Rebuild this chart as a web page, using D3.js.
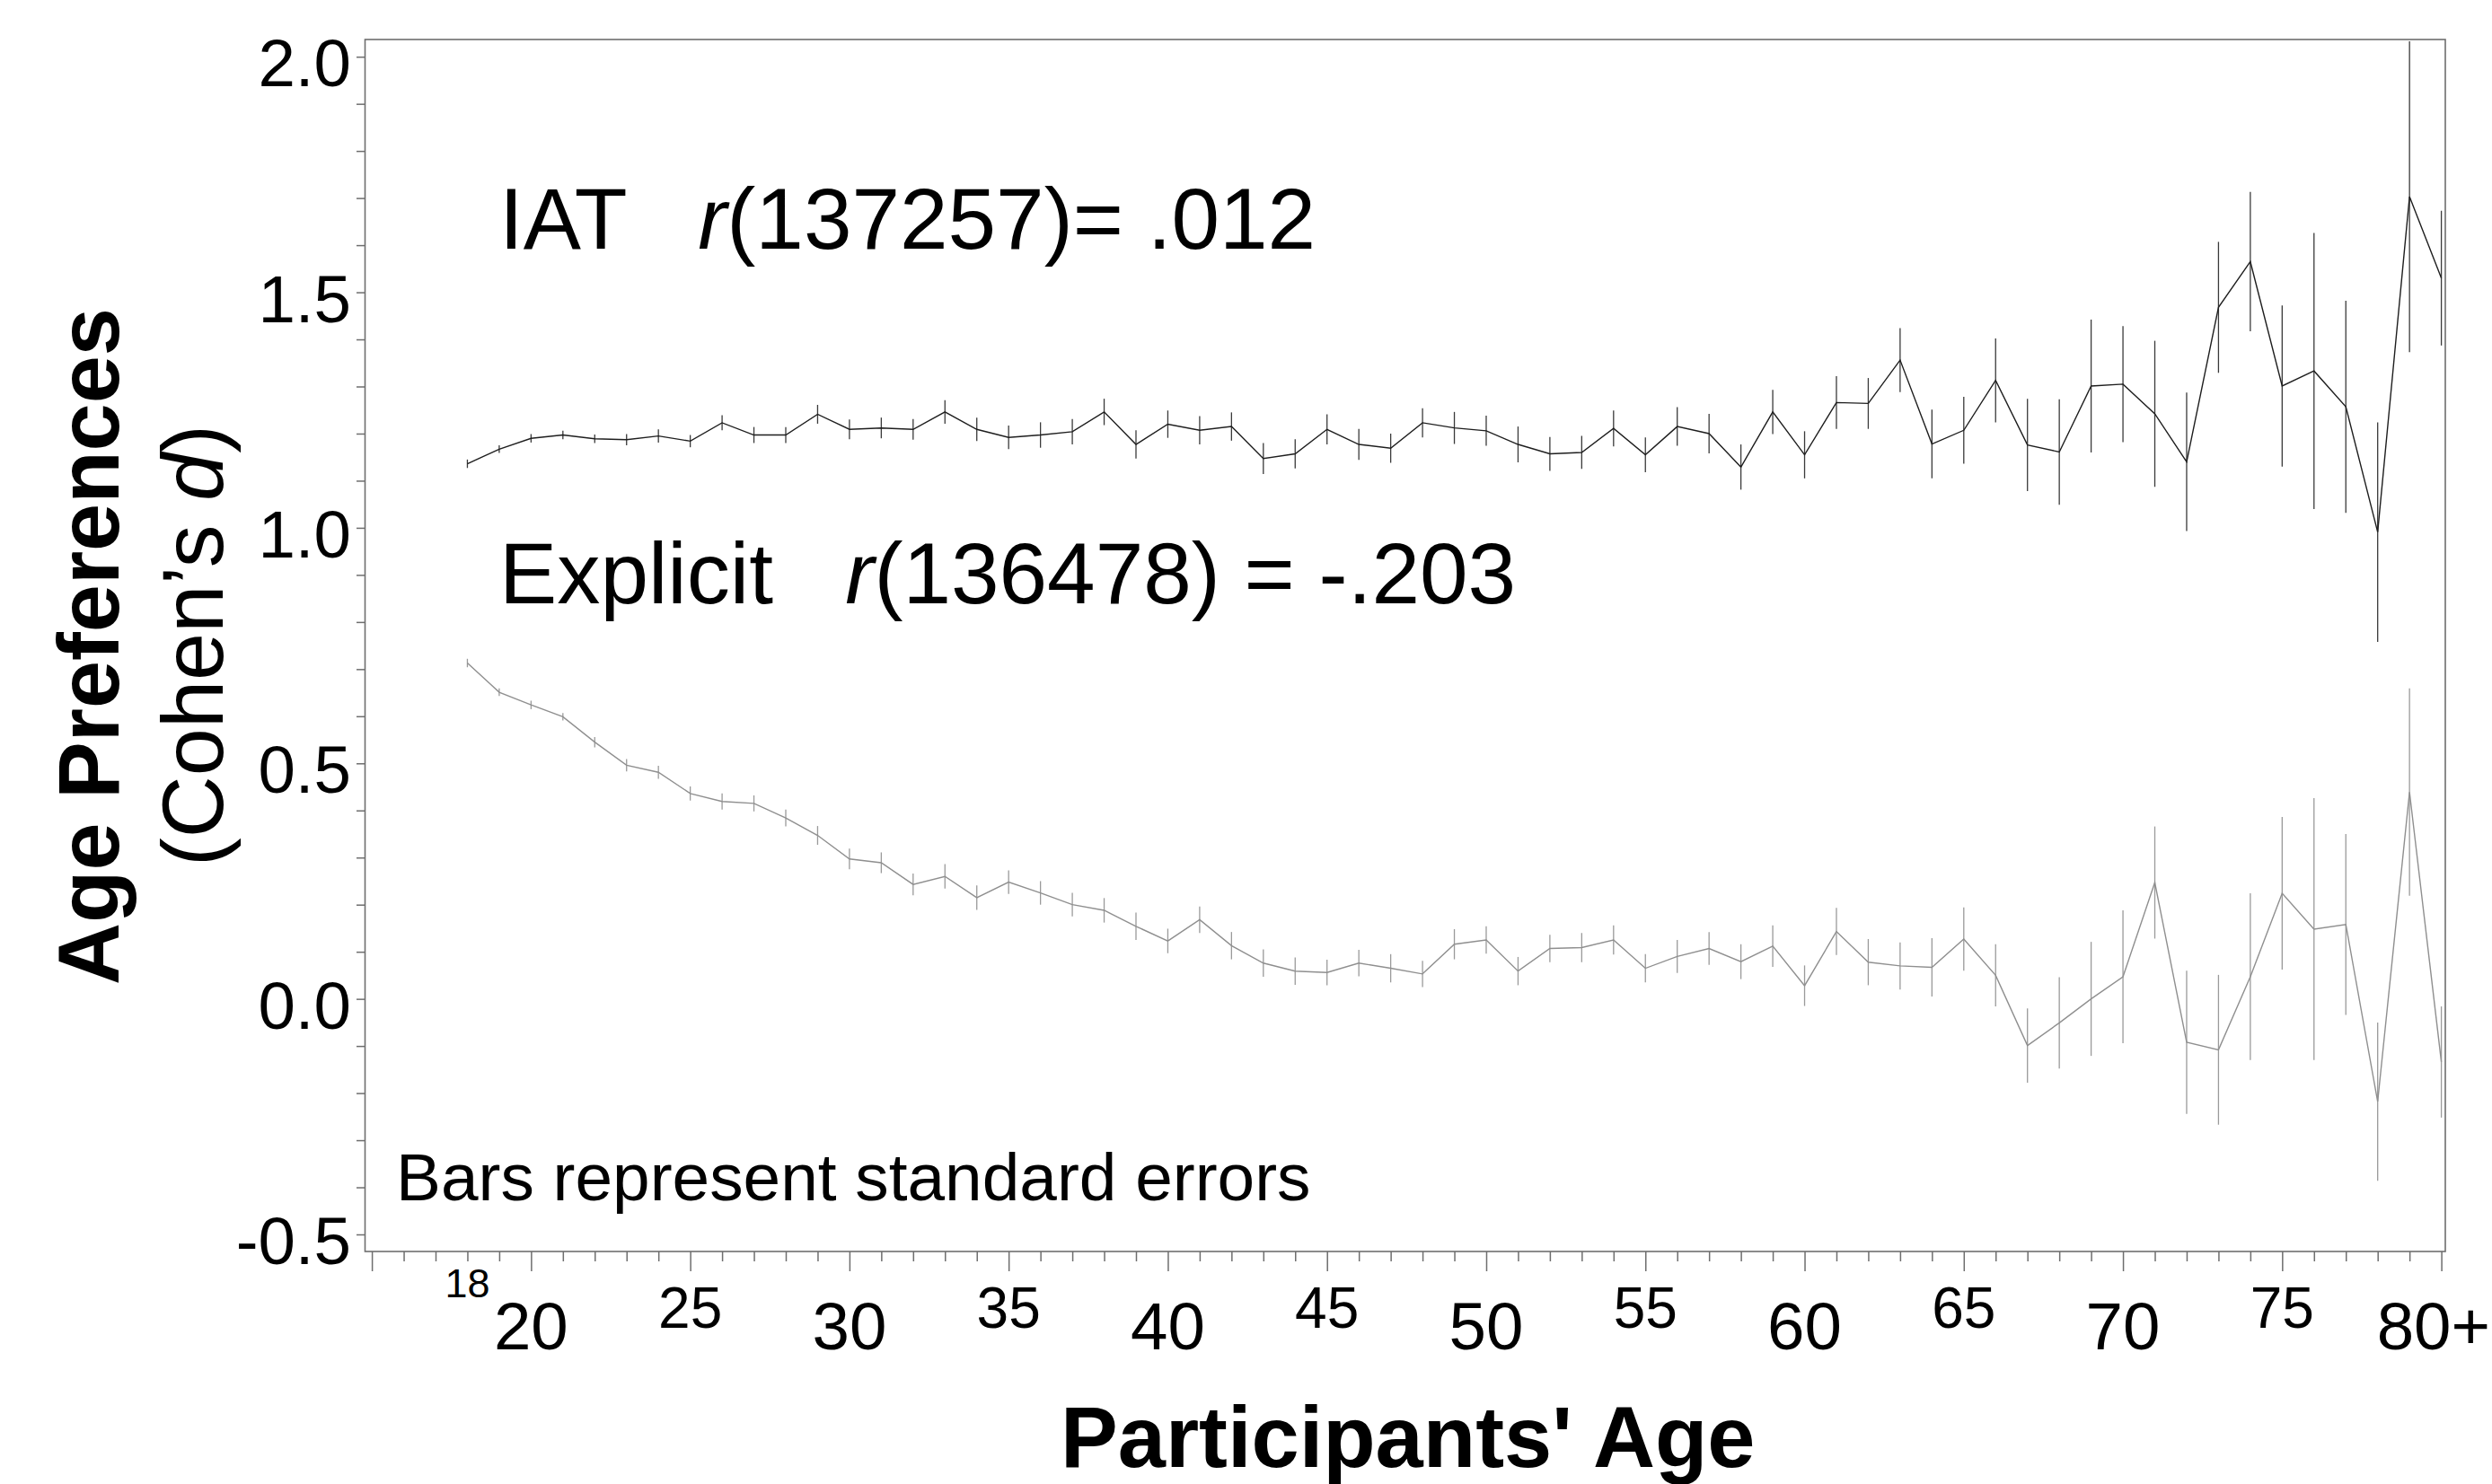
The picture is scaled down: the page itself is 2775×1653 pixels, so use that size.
<!DOCTYPE html>
<html>
<head>
<meta charset="utf-8">
<script src="https://cdn.jsdelivr.net/npm/d3@7"></script>
<style>
  html, body { margin: 0; padding: 0; background: #fff; }
  svg { display: block; font-family: "Liberation Sans", Arial, Helvetica, sans-serif; }
  text { white-space: pre; }
</style>
</head>
<body>
<svg id="chart" width="2775" height="1653"></svg>
<script>
// ---------------- DATA ----------------
const ages = [18,19,20,21,22,23,24,25,26,27,28,29,30,31,32,33,34,35,36,37,38,39,40,41,42,43,44,45,46,47,48,49,
  50,51,52,53,54,55,56,57,58,59,60,61,62,63,64,65,66,67,68,69,70,71,72,73,74,75,76,77,78,79,80];

const iatMean = [1.136,1.167,1.190,1.197,1.189,1.187,1.195,1.184,1.223,1.197,1.197,1.241,1.209,1.212,1.209,1.246,
  1.209,1.192,1.197,1.204,1.246,1.177,1.220,1.207,1.215,1.147,1.157,1.209,1.177,1.169,1.223,1.212,
  1.206,1.177,1.157,1.160,1.211,1.155,1.215,1.200,1.129,1.246,1.155,1.266,1.264,1.356,1.178,1.207,
  1.313,1.176,1.161,1.301,1.305,1.242,1.140,1.468,1.565,1.301,1.333,1.257,0.991,1.703,1.530];

const iatSE = [0.009,0.008,0.009,0.009,0.009,0.012,0.014,0.013,0.016,0.017,0.017,0.020,0.021,0.022,0.022,0.025,
  0.025,0.025,0.027,0.027,0.028,0.030,0.029,0.030,0.030,0.033,0.031,0.032,0.033,0.031,0.031,0.034,
  0.032,0.038,0.036,0.035,0.038,0.037,0.041,0.042,0.048,0.047,0.050,0.056,0.054,0.068,0.073,0.071,
  0.089,0.098,0.112,0.141,0.123,0.155,0.147,0.139,0.148,0.171,0.293,0.225,0.233,0.330,0.143];

const explicitMean = [0.713,0.651,0.624,0.599,0.545,0.496,0.481,0.436,0.419,0.415,0.384,0.347,0.297,0.289,0.243,0.260,
  0.215,0.248,0.225,0.200,0.188,0.154,0.123,0.168,0.113,0.076,0.059,0.056,0.076,0.065,0.053,0.116,
  0.125,0.059,0.107,0.109,0.125,0.065,0.090,0.107,0.079,0.112,0.028,0.143,0.078,0.070,0.067,0.127,
  0.050,-0.099,-0.051,0.000,0.047,0.247,-0.092,-0.108,0.047,0.224,0.148,0.158,-0.218,0.439,-0.134];

const explicitSE = [0.009,0.008,0.009,0.008,0.011,0.013,0.014,0.015,0.017,0.017,0.018,0.020,0.022,0.022,0.023,0.026,
  0.026,0.025,0.025,0.025,0.026,0.029,0.026,0.028,0.029,0.029,0.029,0.027,0.028,0.030,0.028,0.032,
  0.029,0.030,0.029,0.031,0.031,0.030,0.035,0.035,0.037,0.044,0.043,0.050,0.049,0.050,0.062,0.067,
  0.066,0.079,0.097,0.121,0.141,0.119,0.152,0.159,0.177,0.162,0.278,0.192,0.168,0.220,0.118];

const xMinorTickAges = [15,16,17,18,19,20,21,22,23,24,25,26,27,28,29,30,31,32,33,34,35,36,37,38,39,40,41,42,43,44,45,46,47,
  48,49,50,51,52,53,54,55,56,57,58,59,60,61,62,63,64,65,66,67,68,69,70,71,72,73,74,75,76,77,78,79,80];
const xMajorTickAges = [15,20,25,30,35,40,45,50,55,60,65,70,75,80];
const xLargeLabelAges = [20,30,40,50,60,70];
const xLargeLabels = ["20","30","40","50","60","70"];
const xLastLabelAge = 80;
const xLastLabel = "80+";
const xMidLabelAges = [25,35,45,55,65,75];
const xMidLabels = ["25","35","45","55","65","75"];
const xSmallLabelAges = [18];
const xSmallLabels = ["18"];

const yMinorTicks = [-0.5,-0.4,-0.3,-0.2,-0.1,0,0.1,0.2,0.3,0.4,0.5,0.6,0.7,0.8,0.9,1.0,1.1,1.2,1.3,1.4,1.5,1.6,1.7,1.8,1.9,2.0];
const yLabelValues = [-0.5,0.0,0.5,1.0,1.5,2.0];
const yLabels = ["-0.5","0.0","0.5","1.0","1.5","2.0"];

// ---------------- LAYOUT ----------------
const frame = {left: 406.5, right: 2723, top: 44, bottom: 1394};
const axisColor = "#6e6e6e";

const svg = d3.select("#chart");
svg.append("rect").attr("width", 2775).attr("height", 1653).attr("fill", "#fff");

const x = d3.scaleLinear().domain([15, 80]).range([414.1, 2718.6]);
const y = d3.scaleLinear().domain([-0.5, 2.0]).range([1375, 63.2]);

svg.append("clipPath").attr("id", "plotclip").append("rect")
  .attr("x", frame.left).attr("y", frame.top)
  .attr("width", frame.right - frame.left).attr("height", frame.bottom - frame.top);

// ---- Y axis ticks
const yAxis = svg.append("g")
  .attr("transform", `translate(${frame.left},0)`)
  .call(d3.axisLeft(y).tickValues(yMinorTicks).tickSize(9.5).tickFormat(""));
yAxis.select(".domain").remove();
yAxis.selectAll(".tick line").attr("stroke", axisColor).attr("stroke-width", 1.5);

svg.append("g").selectAll("text").data(yLabelValues).join("text")
  .attr("x", 391)
  .attr("y", d => y(d) + 33)
  .attr("text-anchor", "end")
  .attr("font-size", 74.5)
  .attr("fill", "#000")
  .text((d, i) => yLabels[i]);

// ---- X axis ticks
const xAxis = svg.append("g")
  .attr("transform", `translate(0,${frame.bottom})`)
  .call(d3.axisBottom(x).tickValues(xMinorTickAges).tickSize(11).tickFormat(""));
xAxis.select(".domain").remove();
xAxis.selectAll(".tick line")
  .attr("stroke", axisColor).attr("stroke-width", 1.5)
  .attr("y2", d => xMajorTickAges.includes(d) ? 22 : 11);

const xl = svg.append("g").attr("text-anchor", "middle").attr("fill", "#000");
xl.selectAll("text.lg").data(xLargeLabelAges).join("text").attr("class", "lg")
  .attr("x", d => x(d)).attr("y", 1503).attr("font-size", 74.5)
  .text((d, i) => xLargeLabels[i]);
xl.append("text")
  .attr("x", 2773).attr("y", 1503).attr("font-size", 74.5).attr("text-anchor", "end")
  .datum(xLastLabelAge)
  .text(xLastLabel);
xl.selectAll("text.md").data(xMidLabelAges).join("text").attr("class", "md")
  .attr("x", d => x(d)).attr("y", 1479).attr("font-size", 64)
  .text((d, i) => xMidLabels[i]);
xl.selectAll("text.sm").data(xSmallLabelAges).join("text").attr("class", "sm")
  .attr("x", d => x(d)).attr("y", 1445).attr("font-size", 45)
  .text((d, i) => xSmallLabels[i]);

// ---- Frame
svg.append("rect")
  .attr("x", frame.left).attr("y", frame.top)
  .attr("width", frame.right - frame.left).attr("height", frame.bottom - frame.top)
  .attr("fill", "none").attr("stroke", axisColor).attr("stroke-width", 1.6);

// ---- Series
const plot = svg.append("g").attr("clip-path", "url(#plotclip)");

function drawSeries(means, ses, lineColor, barColor) {
  const data = ages.map((a, i) => ({age: a, m: means[i], se: ses[i]}));
  plot.append("g").selectAll("line").data(data).join("line")
    .attr("x1", d => x(d.age)).attr("x2", d => x(d.age))
    .attr("y1", d => y(d.m - d.se)).attr("y2", d => y(d.m + d.se))
    .attr("stroke", barColor).attr("stroke-width", 1.3);
  plot.append("path").datum(data)
    .attr("fill", "none").attr("stroke", lineColor).attr("stroke-width", 1.4)
    .attr("d", d3.line().x(d => x(d.age)).y(d => y(d.m)));
}
drawSeries(explicitMean, explicitSE, "#8f8f8f", "#9a9a9a");
drawSeries(iatMean, iatSE, "#1e1e1e", "#3a3a3a");

// ---- Annotations
const ann = svg.append("g").attr("fill", "#000").attr("font-size", 96.3);
const t1 = ann.append("text").attr("x", 556).attr("y", 277).attr("xml:space", "preserve");
t1.append("tspan").text("IAT   ");
t1.append("tspan").attr("font-style", "italic").text("r");
t1.append("tspan").text("(137257)= .012");

const t2 = ann.append("text").attr("x", 556).attr("y", 672).attr("xml:space", "preserve");
t2.append("tspan").text("Explicit   ");
t2.append("tspan").attr("font-style", "italic").text("r");
t2.append("tspan").text("(136478) = -.203");

svg.append("text").attr("x", 441).attr("y", 1337).attr("font-size", 74.8).attr("fill", "#000")
  .text("Bars represent standard errors");

// ---- Axis titles
svg.append("text")
  .attr("x", (frame.left + frame.right) / 2 + 3).attr("y", 1634)
  .attr("text-anchor", "middle").attr("font-size", 95.6).attr("font-weight", "bold")
  .text("Participants' Age");

svg.append("text")
  .attr("transform", "translate(132,720) rotate(-90)")
  .attr("text-anchor", "middle").attr("font-size", 95.5).attr("font-weight", "bold")
  .text("Age Preferences");

const yt2 = svg.append("text")
  .attr("transform", "translate(248,719) rotate(-90)")
  .attr("text-anchor", "middle").attr("font-size", 95.5);
yt2.append("tspan").text("(Cohen\u2019s ");
yt2.append("tspan").attr("font-style", "italic").text("d");
yt2.append("tspan").text(")");
</script>
</body>
</html>
